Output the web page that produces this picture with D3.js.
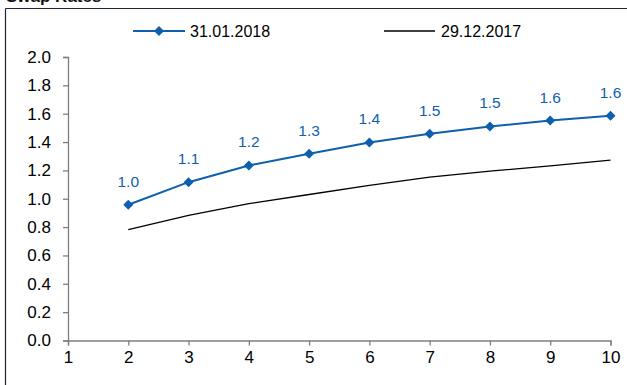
<!DOCTYPE html>
<html>
<head>
<meta charset="utf-8">
<script src="https://cdn.jsdelivr.net/npm/d3@7"></script>
<style>
  html, body { margin: 0; padding: 0; background: #fff; }
  svg { display: block; font-family: "Liberation Sans", Arial, sans-serif; }
</style>
</head>
<body>
<svg id="chart" width="627" height="385"></svg>
<script>
// Swap rates by maturity (years) on two dates
const maturities = [2, 3, 4, 5, 6, 7, 8, 9, 10];
const rates20180131 = [0.958, 1.117, 1.235, 1.318, 1.397, 1.458, 1.51, 1.552, 1.586];
const rates20171229 = [0.783, 0.882, 0.965, 1.03, 1.094, 1.152, 1.195, 1.232, 1.272];
const seriesNames = ["31.01.2018", "29.12.2017"];
const xTicks = [1, 2, 3, 4, 5, 6, 7, 8, 9, 10];
const yTicks = [0, 0.2, 0.4, 0.6, 0.8, 1.0, 1.2, 1.4, 1.6, 1.8, 2.0];
const title = "Swap Rates";

const blue = "#0e5fae";
const font = "'Liberation Sans', Arial, sans-serif";
const svg = d3.select("#chart");

// Frame and title
svg.append("text").attr("x", 6).attr("y", 2)
  .attr("font-size", 17).attr("font-weight", "bold").attr("fill", "#111")
  .text(title);
svg.append("line").attr("x1", 5.5).attr("x2", 627).attr("y1", 8.5).attr("y2", 8.5)
  .attr("stroke", "#1a2533").attr("stroke-width", 1.2);
svg.append("line").attr("x1", 5.5).attr("x2", 5.5).attr("y1", 8.5).attr("y2", 385)
  .attr("stroke", "#1a2533").attr("stroke-width", 1.2);

const x = d3.scaleLinear().domain([1, 10]).range([68, 610.5]);
const y = d3.scaleLinear().domain([0, 2]).range([340.5, 57]);

// Axes
const yAxis = svg.append("g").attr("transform", "translate(68,0)")
  .call(d3.axisLeft(y).tickValues(yTicks).tickFormat(d3.format(".1f")).tickSize(5).tickPadding(12));
const xAxis = svg.append("g").attr("transform", "translate(0,340.5)")
  .call(d3.axisBottom(x).tickValues(xTicks).tickFormat(d3.format("d")).tickSize(5).tickPadding(5));
[xAxis, yAxis].forEach(g => {
  g.attr("font-family", font).attr("font-size", 17);
  g.selectAll("path, line").attr("stroke", "#7f7f7f").attr("stroke-width", 1.3);
  g.selectAll("text").attr("fill", "#000");
});

const line = d3.line().x(d => x(d[0])).y(d => y(d[1]));

// 29.12.2017 series (black, no markers)
svg.append("path").datum(maturities.map((m, i) => [m, rates20171229[i]]))
  .attr("d", line).attr("fill", "none").attr("stroke", "#000").attr("stroke-width", 1.3);

// 31.01.2018 series (blue, diamond markers and value labels)
const pts = maturities.map((m, i) => [m, rates20180131[i]]);
svg.append("path").datum(pts)
  .attr("d", line).attr("fill", "none").attr("stroke", blue).attr("stroke-width", 2);
const diamond = d3.symbol().type(d3.symbolDiamond2).size(64);
svg.selectAll(".mk").data(pts).join("path").attr("class", "mk")
  .attr("transform", d => `translate(${x(d[0])},${y(d[1])})`)
  .attr("d", diamond).attr("fill", blue);
svg.selectAll(".lbl").data(pts).join("text").attr("class", "lbl")
  .attr("x", d => x(d[0])).attr("y", d => y(d[1]) - 18)
  .attr("text-anchor", "middle").attr("font-family", font).attr("font-size", 15.5).attr("fill", blue)
  .text(d => d[1].toFixed(1));

// Legend
const lg = svg.append("g").attr("font-family", font).attr("font-size", 16);
lg.append("line").attr("x1", 133).attr("x2", 185).attr("y1", 31).attr("y2", 31)
  .attr("stroke", blue).attr("stroke-width", 2);
lg.append("path").attr("transform", "translate(159,31)").attr("d", diamond).attr("fill", blue);
lg.append("text").attr("x", 190).attr("y", 37).attr("fill", "#000").text(seriesNames[0]);
lg.append("line").attr("x1", 384).attr("x2", 435).attr("y1", 31).attr("y2", 31)
  .attr("stroke", "#000").attr("stroke-width", 1.3);
lg.append("text").attr("x", 441).attr("y", 37).attr("fill", "#000").text(seriesNames[1]);
</script>
</body>
</html>
